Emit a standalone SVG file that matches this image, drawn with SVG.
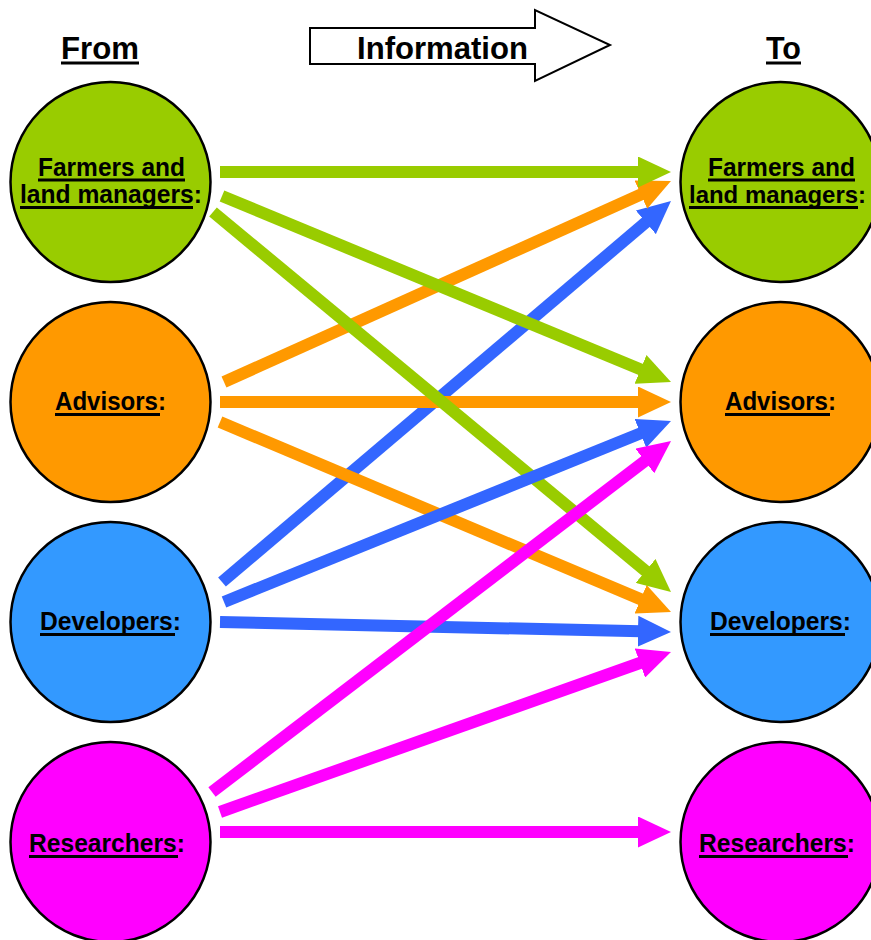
<svg xmlns="http://www.w3.org/2000/svg" width="871" height="940" viewBox="0 0 871 940">
<style>
.n{stroke:#000;stroke-width:2.5}
.t{font-family:"Liberation Sans",Arial,sans-serif;font-weight:bold;font-size:25.5px;fill:#000}
.h{font-family:"Liberation Sans",Arial,sans-serif;font-weight:bold;font-size:32px;fill:#000}
.u{fill:#000}
.a{fill:none;stroke-width:12}
.g{stroke:#99CC00}.o{stroke:#FF9900}.b{stroke:#3366FF}.m{stroke:#FF00FF}
</style>
<defs>
<marker id="mg" viewBox="0 0 33 31" markerWidth="33" markerHeight="31" markerUnits="userSpaceOnUse" refX="3" refY="15.5" orient="auto"><path d="M0,0L33,15.5L0,31Z" fill="#99CC00"/></marker>
<marker id="mo" viewBox="0 0 33 31" markerWidth="33" markerHeight="31" markerUnits="userSpaceOnUse" refX="3" refY="15.5" orient="auto"><path d="M0,0L33,15.5L0,31Z" fill="#FF9900"/></marker>
<marker id="mb" viewBox="0 0 33 31" markerWidth="33" markerHeight="31" markerUnits="userSpaceOnUse" refX="3" refY="15.5" orient="auto"><path d="M0,0L33,15.5L0,31Z" fill="#3366FF"/></marker>
<marker id="mm" viewBox="0 0 33 31" markerWidth="33" markerHeight="31" markerUnits="userSpaceOnUse" refX="3" refY="15.5" orient="auto"><path d="M0,0L33,15.5L0,31Z" fill="#FF00FF"/></marker>
</defs>
<rect width="871" height="940" fill="#fff"/>

<g id="header">
<text class="h" x="61" y="59" textLength="78" lengthAdjust="spacingAndGlyphs">From</text>
<rect class="u" x="61" y="61.5" width="78" height="3"/>
<text class="h" x="766" y="59" textLength="35" lengthAdjust="spacingAndGlyphs">To</text>
<rect class="u" x="766" y="61.5" width="35" height="3"/>
</g>
<g id="info-arrow">
<path d="M310,28H535V10L610,45L535,81V64H310Z" fill="#fff" stroke="#000" stroke-width="2"/>
<text class="h" x="357" y="59" textLength="171" lengthAdjust="spacingAndGlyphs">Information</text>
</g>

<g id="from-farmers">
<circle class="n" cx="110.5" cy="182" r="100" fill="#99CC00"/>
<text class="t" x="38" y="176" textLength="147" lengthAdjust="spacingAndGlyphs">Farmers and</text>
<rect class="u" x="38" y="178.5" width="147" height="3"/>
<text class="t" x="20" y="203" textLength="182" lengthAdjust="spacingAndGlyphs">land managers:</text>
<rect class="u" x="20" y="206" width="173" height="3"/>
</g>
<g id="from-advisors">
<circle class="n" cx="110.5" cy="402" r="100" fill="#FF9900"/>
<text class="t" x="55" y="410" textLength="111" lengthAdjust="spacingAndGlyphs">Advisors:</text>
<rect class="u" x="55" y="413" width="105" height="3"/>
</g>
<g id="from-developers">
<circle class="n" cx="110.5" cy="622" r="100" fill="#3399FF"/>
<text class="t" x="40" y="630" textLength="141" lengthAdjust="spacingAndGlyphs">Developers:</text>
<rect class="u" x="40" y="633" width="135" height="3"/>
</g>
<g id="from-researchers">
<circle class="n" cx="110.5" cy="842" r="100" fill="#FF00FF"/>
<text class="t" x="29" y="852" textLength="156" lengthAdjust="spacingAndGlyphs">Researchers:</text>
<rect class="u" x="29" y="855" width="149" height="3"/>
</g>

<g id="to-farmers">
<circle class="n" cx="780.5" cy="182" r="100" fill="#99CC00"/>
<text class="t" x="708" y="176" textLength="147" lengthAdjust="spacingAndGlyphs">Farmers and</text>
<rect class="u" x="708" y="178.5" width="147" height="3"/>
<text class="t" x="689" y="203" style="font-size:24px" textLength="177" lengthAdjust="spacingAndGlyphs">land managers:</text>
<rect class="u" x="689" y="206" width="169" height="3"/>
</g>
<g id="to-advisors">
<circle class="n" cx="780.5" cy="402" r="100" fill="#FF9900"/>
<text class="t" x="725" y="410" textLength="111" lengthAdjust="spacingAndGlyphs">Advisors:</text>
<rect class="u" x="725" y="413" width="105" height="3"/>
</g>
<g id="to-developers">
<circle class="n" cx="780.5" cy="622" r="100" fill="#3399FF"/>
<text class="t" x="710" y="630" textLength="141" lengthAdjust="spacingAndGlyphs">Developers:</text>
<rect class="u" x="710" y="633" width="135" height="3"/>
</g>
<g id="to-researchers">
<circle class="n" cx="780.5" cy="842" r="100" fill="#FF00FF"/>
<text class="t" x="699" y="852" textLength="156" lengthAdjust="spacingAndGlyphs">Researchers:</text>
<rect class="u" x="699" y="855" width="149" height="3"/>
</g>

<g id="connectors">
<path class="a b" d="M222,582L648.1,220.4" marker-end="url(#mb)"/>
<path class="a o" d="M224,382L643.6,193.3" marker-end="url(#mo)"/>
<path class="a o" d="M220,402L641,402" marker-end="url(#mo)"/>
<path class="a o" d="M220,422L643.4,600.4" marker-end="url(#mo)"/>
<path class="a g" d="M220,172L641,172" marker-end="url(#mg)"/>
<path class="a g" d="M222,196L643.3,370.5" marker-end="url(#mg)"/>
<path class="a g" d="M213,212L647.9,572.8" marker-end="url(#mg)"/>
<path class="a b" d="M224,602L643.2,432.3" marker-end="url(#mb)"/>
<path class="a b" d="M220,622L641,631.3" marker-end="url(#mb)"/>
<path class="a m" d="M212,792L647.2,459.2" marker-end="url(#mm)"/>
<path class="a m" d="M220,812L642.7,662" marker-end="url(#mm)"/>
<path class="a m" d="M220,832L641,832" marker-end="url(#mm)"/>
</g>
</svg>
